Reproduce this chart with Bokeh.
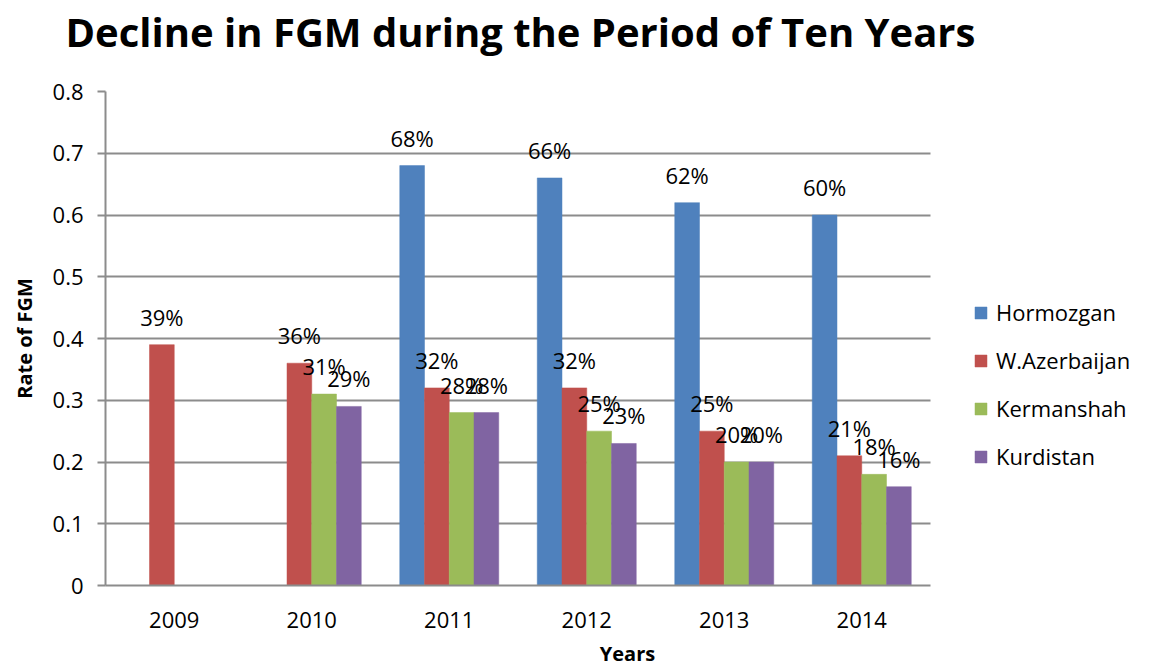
import numpy as np
from bokeh.plotting import figure
from bokeh.models import ColumnDataSource, Range1d, FixedTicker, Legend, LegendItem, LabelSet, Title
from bokeh.core.properties import value
from bokeh.embed import file_html
from bokeh.resources import INLINE

years = ["2009", "2010", "2011", "2012", "2013", "2014"]
series_names = ["Hormozgan", "W.Azerbaijan", "Kermanshah", "Kurdistan"]
hormozgan = [None, None, 0.68, 0.66, 0.62, 0.60]
w_azerbaijan = [0.39, 0.36, 0.32, 0.32, 0.25, 0.21]
kermanshah = [None, 0.31, 0.28, 0.25, 0.20, 0.18]
kurdistan = [None, 0.29, 0.28, 0.23, 0.20, 0.16]
y_ticks = [0, 0.1, 0.2, 0.3, 0.4, 0.5, 0.6, 0.7, 0.8]

colors = ["#4F81BD", "#C0504D", "#9BBB59", "#8064A2"]
offsets = [-0.27, -0.09, 0.09, 0.27]
FONT = "Open Sans"

pos = np.arange(len(years))
n = len(years)
# frame spans the plot area plus the legend area on the right
x_end = -0.5 + 1044 / (825 / n)

p = figure(frame_width=1044, frame_height=494, x_range=Range1d(-0.5, x_end), y_range=Range1d(0, 0.8),
           output_backend="svg", toolbar_location=None,
           min_border_left=105, min_border_right=0, min_border_top=91, min_border_bottom=85)

p.title.text = "Decline in FGM during the Period of Ten Years"
p.title.text_font = FONT
p.title.text_font_size = "40px"
p.title.text_font_style = "bold"
p.title.text_color = "black"
p.title.align = "left"
p.title.offset = -40
p.title.standoff = 2
p.outline_line_color = None
p.background_fill_color = "white"
p.border_fill_color = "white"

# spacer between the frame and the title
p.add_layout(Title(text=" ", text_font_size="10px", standoff=19), "above")

# horizontal grid lines limited to the category area
p.xgrid.grid_line_color = None
p.ygrid.grid_line_color = "#8c8c8c"
p.ygrid.grid_line_width = 2
p.ygrid.ticker = FixedTicker(ticks=y_ticks)
try:
    p.ygrid.cross_bounds = (-0.5, n - 0.5)
except AttributeError:
    p.ygrid.grid_line_color = None
    p.segment(x0=[-0.5] * len(y_ticks), x1=[n - 0.5] * len(y_ticks), y0=y_ticks, y1=y_ticks,
              line_color="#8c8c8c", line_width=2)

all_series = [hormozgan, w_azerbaijan, kermanshah, kurdistan]
items = []
for name, vals, col, off in zip(series_names, all_series, colors, offsets):
    tops = [float("nan") if v is None else v for v in vals]
    src = ColumnDataSource(dict(x=pos + off, top=tops))
    r = p.vbar(x="x", top="top", width=0.18, source=src,
               fill_color=col, line_color=col, line_width=0.5)
    items.append(LegendItem(label=name, renderers=[r]))
    lx = [x + off for x, v in zip(pos, vals) if v is not None]
    ly = [v for v in vals if v is not None]
    lt = ["%d%%" % round(v * 100) for v in ly]
    lsrc = ColumnDataSource(dict(x=lx, y=ly, t=lt))
    labels = LabelSet(x="x", y="y", text="t", source=lsrc,
                      text_align="center", text_baseline="bottom", y_offset=13,
                      text_font=value(FONT), text_font_size=value("22px"), text_color="black")
    p.add_layout(labels)

legend = Legend(items=items, location=(868, 114), orientation="vertical",
                glyph_width=15, glyph_height=15, label_height=22, spacing=18,
                padding=0, margin=0, label_standoff=8,
                label_text_font=FONT, label_text_font_size="22px", label_text_color="black",
                border_line_color=None, background_fill_alpha=0)
p.add_layout(legend, "center")

p.yaxis.ticker = FixedTicker(ticks=y_ticks)
p.yaxis.major_label_overrides = {0: "0"}
p.xaxis.ticker = FixedTicker(ticks=list(pos))
p.xaxis.major_label_overrides = {int(i): y for i, y in zip(pos, years)}
p.xaxis.bounds = (-0.5, n - 0.5)

for ax in (p.xaxis, p.yaxis):
    ax.axis_line_color = "#8c8c8c"
    ax.axis_line_width = 2
    ax.major_label_text_font = FONT
    ax.major_label_text_font_size = "22px"
    ax.major_label_text_color = "black"
    ax.minor_tick_line_color = None
    ax.axis_label_text_font = FONT
    ax.axis_label_text_font_size = "20px"
    ax.axis_label_text_font_style = "bold"
    ax.axis_label_text_color = "black"

p.yaxis.major_tick_line_color = "#8c8c8c"
p.yaxis.major_tick_line_width = 2
p.yaxis.major_tick_out = 8
p.yaxis.major_tick_in = 0
p.yaxis.major_label_standoff = 14
p.yaxis.axis_label = "Rate of FGM"
p.yaxis.axis_label_standoff = 12

p.xaxis.major_tick_line_color = None
p.xaxis.major_label_standoff = 20
p.xaxis.axis_label = "Years"
p.xaxis.axis_label_standoff = 9

open("out.html", "w").write(file_html(p, INLINE))
